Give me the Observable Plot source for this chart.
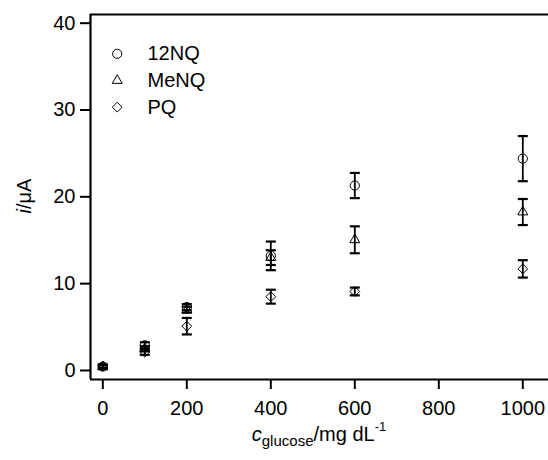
<!DOCTYPE html>
<html>
<head>
<meta charset="utf-8">
<script src="https://cdn.jsdelivr.net/npm/d3@7"></script>
<script src="https://cdn.jsdelivr.net/npm/@observablehq/plot@0.6"></script>
<style>
  html, body { margin: 0; padding: 0; background: #fff; }
  #chart svg { display: block; }
</style>
</head>
<body>
<div id="chart"></div>
<script>
// ---- data ----
const conc = [0, 100, 200, 400, 600, 1000];
const seriesNames = ["12NQ", "MeNQ", "PQ"];
const nq12 = [0.45, 2.9, 7.3, 13.2, 21.3, 24.4];
const nq12Err = [0.2, 0.35, 0.35, 1.65, 1.45, 2.6];
const menq = [0.4, 2.5, 7.0, 13.0, 15.05, 18.25];
const menqErr = [0.2, 0.3, 0.35, 0.85, 1.55, 1.5];
const pq = [0.5, 2.1, 5.1, 8.5, 9.1, 11.7];
const pqErr = [0.2, 0.3, 0.95, 0.8, 0.45, 1.0];
const xTicks = [0, 200, 400, 600, 800, 1000];
const yTicks = [0, 10, 20, 30, 40];

const symbols = {"12NQ": "circle", "MeNQ": "triangle", "PQ": "diamond2"};
const sizes = {"12NQ": 4.6, "MeNQ": 3.7, "PQ": 4.4};
const rows = [];
[[nq12, nq12Err], [menq, menqErr], [pq, pqErr]].forEach(([v, e], si) => {
  conc.forEach((c, i) => rows.push({series: seriesNames[si], c, i: v[i], lo: v[i] - e[i], hi: v[i] + e[i]}));
});

// cap symbol: short horizontal bar
const capSymbol = {draw(ctx) { ctx.moveTo(-5, 0); ctx.lineTo(5, 0); }};

const W = 548, H = 460;
const mL = 90, mT = 14, mB = 81, mR = 0;
const xDomain = [-29.3, 1061.2];
const yDomain = [-1.04, 41.0];

const legendMarks = seriesNames.flatMap((s, k) => [
  Plot.dot([s], {frameAnchor: "top-left", dx: 26.7, dy: 39.3 + k * 26.7, symbol: () => symbols[s], r: () => sizes[s], stroke: "#000", strokeWidth: 1, fill: "none"}),
  Plot.text([s], {frameAnchor: "top-left", dx: 57, dy: 39.3 + k * 26.7, text: d => d, textAnchor: "start", lineAnchor: "middle", fontSize: 20, fill: "#000"})
]);

const plot = Plot.plot({
  width: W, height: H,
  marginLeft: mL, marginTop: mT, marginBottom: mB, marginRight: mR,
  style: {fontFamily: "'Liberation Sans', Arial, sans-serif", background: "#fff", color: "#000"},
  x: {domain: xDomain, label: null},
  y: {domain: yDomain, label: null},
  r: {type: "identity"},
  symbol: {domain: seriesNames, range: seriesNames.map(s => symbols[s])},
  marks: [
    Plot.axisX({ticks: xTicks, tickFormat: d => String(d), tickSize: 10, tickPadding: 11.5, fontSize: 20, strokeWidth: 2, label: null}),
    Plot.axisY({ticks: yTicks, tickFormat: d => String(d), tickSize: 10, tickPadding: 5, fontSize: 20, strokeWidth: 2, label: null}),
    Plot.ruleX([xDomain[0]], {strokeWidth: 2.2, stroke: "#000"}),
    Plot.ruleY(yDomain, {strokeWidth: 2.2, stroke: "#000"}),
    Plot.ruleX(rows, {x: "c", y1: "lo", y2: "hi", stroke: "#000", strokeWidth: 1.8}),
    Plot.dot(rows, {x: "c", y: "hi", symbol: () => capSymbol, stroke: "#000", strokeWidth: 2.2, fill: "none"}),
    Plot.dot(rows, {x: "c", y: "lo", symbol: () => capSymbol, stroke: "#000", strokeWidth: 2.2, fill: "none"}),
    Plot.dot(rows, {x: "c", y: "i", symbol: "series", r: d => sizes[d.series], stroke: "#000", strokeWidth: 1, fill: "none"}),
    ...legendMarks
  ]
});

const svg = d3.select(plot);
// x title
const xt = svg.append("text")
  .attr("x", 319).attr("y", 441)
  .attr("text-anchor", "middle")
  .attr("font-size", 20)
  .attr("fill", "#000");
xt.append("tspan").attr("font-style", "italic").text("c");
xt.append("tspan").attr("font-size", 15).attr("dy", 5).text("glucose");
xt.append("tspan").attr("dy", -5).text("/mg dL");
xt.append("tspan").attr("font-size", 13).attr("dy", -10).text("-1");

// y title
const yt = svg.append("text")
  .attr("transform", "translate(31,196) rotate(-90)")
  .attr("text-anchor", "middle")
  .attr("font-size", 20)
  .attr("fill", "#000");
yt.append("tspan").attr("font-style", "italic").text("i");
yt.append("tspan").text("/μA");

document.getElementById("chart").appendChild(plot);
</script>
</body>
</html>
